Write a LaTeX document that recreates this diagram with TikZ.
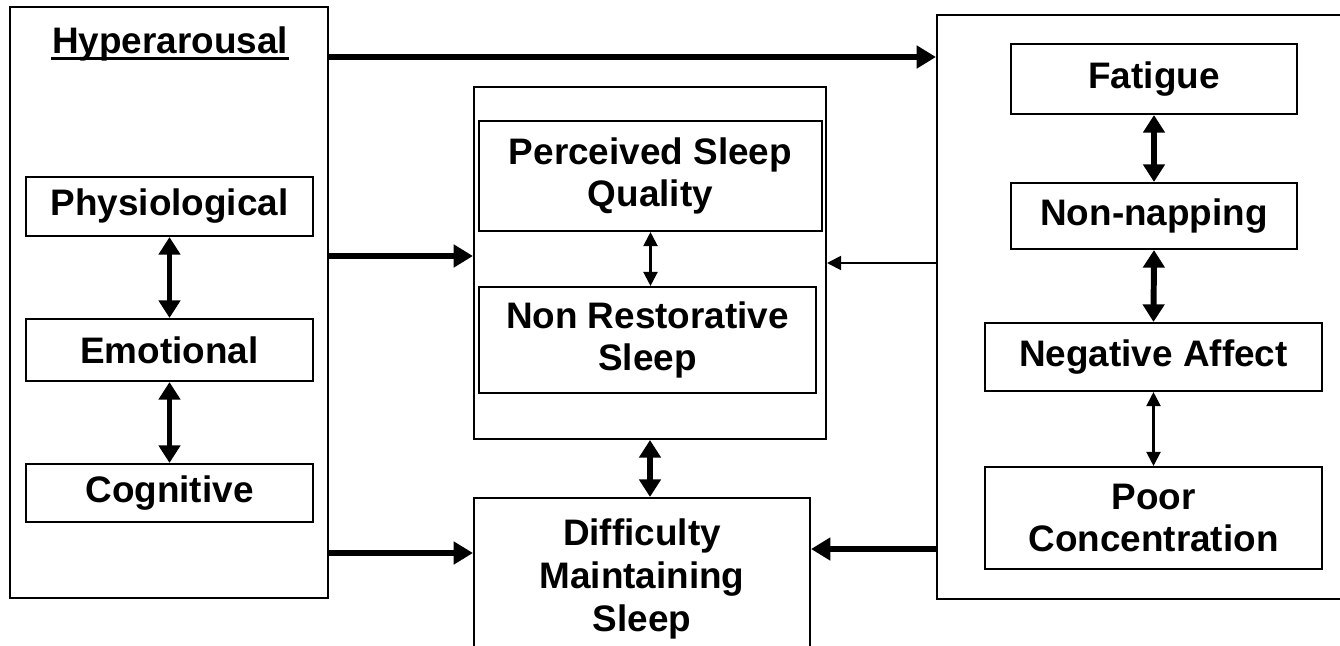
\documentclass[tikz,border=0pt]{standalone}
\usepackage{fontspec}
\setmainfont{Liberation Sans}
\usetikzlibrary{arrows.meta}

\begin{document}
\begin{tikzpicture}[x=0.02cm,y=-0.02cm]
% Styles
\tikzset{box/.style={draw,line width=1.2pt,inner sep=0pt,align=center,
  font=\fontsize{21}{24.4}\selectfont\bfseries}}
\tikzstyle{bigarrow}=[line width=3.4pt,-{Triangle[length=11pt,width=12.5pt]}]
\tikzstyle{thinarrow}=[line width=1.1pt,-{Triangle[length=8pt,width=8pt]}]
\tikzstyle{bigboth}=[line width=3.4pt,{Triangle[length=10pt,width=12pt]}-{Triangle[length=10pt,width=12pt]}]
\tikzstyle{thinboth}=[line width=1.2pt,{Triangle[length=8pt,width=8pt]}-{Triangle[length=8pt,width=8pt]}]

\useasboundingbox (0,0) rectangle (1340,646);
\clip (0,0) rectangle (1340,646);

% Hyperarousal block
\node[box,minimum width=6.36cm,minimum height=11.82cm] (hyp) at (169,302.5) {};
\node[box,draw=none,anchor=base] (hyptitle) at (170,53) {Hyperarousal};
\draw[line width=1.7pt] ([yshift=-3pt]hyptitle.base west) -- ([yshift=-3pt]hyptitle.base east);
\node[box,minimum width=5.74cm,minimum height=1.18cm] (phys) at (169.5,206.5) {Physiological};
\node[box,minimum width=5.74cm,minimum height=1.24cm] (emo) at (169.5,350) {Emotional};
\node[box,minimum width=5.74cm,minimum height=1.16cm] (cog) at (169.5,493) {Cognitive};

% Sleep block
\node[box,minimum width=7.04cm,minimum height=7.04cm] (mid) at (650,263) {};
\node[box,minimum width=6.86cm,minimum height=2.2cm] (psq) at (650.5,176) {Perceived Sleep\\Quality};
\node[box,minimum width=6.74cm,minimum height=2.12cm] (nrs) at (647.5,340) {Non Restorative\\Sleep};
\node[box,minimum width=6.72cm,minimum height=3.24cm] (dms) at (642,579) {Difficulty\\Maintaining\\Sleep};

% Daytime block
\node[box,minimum width=8.26cm,minimum height=11.68cm] (day) at (1143.5,307) {};
\node[box,minimum width=5.72cm,minimum height=1.4cm] (fat) at (1154,79) {Fatigue};
\node[box,minimum width=5.72cm,minimum height=1.32cm] (nap) at (1154,216) {Non-napping};
\node[box,minimum width=6.74cm,minimum height=1.36cm] (neg) at (1153.5,357) {Negative Affect};
\node[box,minimum width=6.74cm,minimum height=2.04cm] (poor) at (1153.5,518) {Poor\\Concentration};

% inner links
\draw[bigboth] (phys.south) -- (emo.north);
\draw[bigboth] (emo.south) -- (cog.north);
\draw[thinboth] (psq.south) -- (psq.south |- nrs.north);
\draw[bigboth] (mid.south) -- (mid.south |- dms.north);
\draw[bigboth] (fat.south) -- (nap.north);
\draw[bigboth] (nap.south) -- (neg.north);
\draw[thinboth] (neg.south) -- (poor.north);

% links between blocks
\draw[bigarrow] (hyp.east |- 0,57) -- (day.west |- 0,57);
\draw[bigarrow] (hyp.east |- 0,256) -- (mid.west |- 0,256);
\draw[bigarrow] (hyp.east |- 0,553) -- (dms.west |- 0,553);
\draw[thinarrow] (day.west |- 0,263) -- (mid.east |- 0,263);
\draw[bigarrow] (day.west |- 0,549) -- (dms.east |- 0,549);
\end{tikzpicture}
\end{document}
